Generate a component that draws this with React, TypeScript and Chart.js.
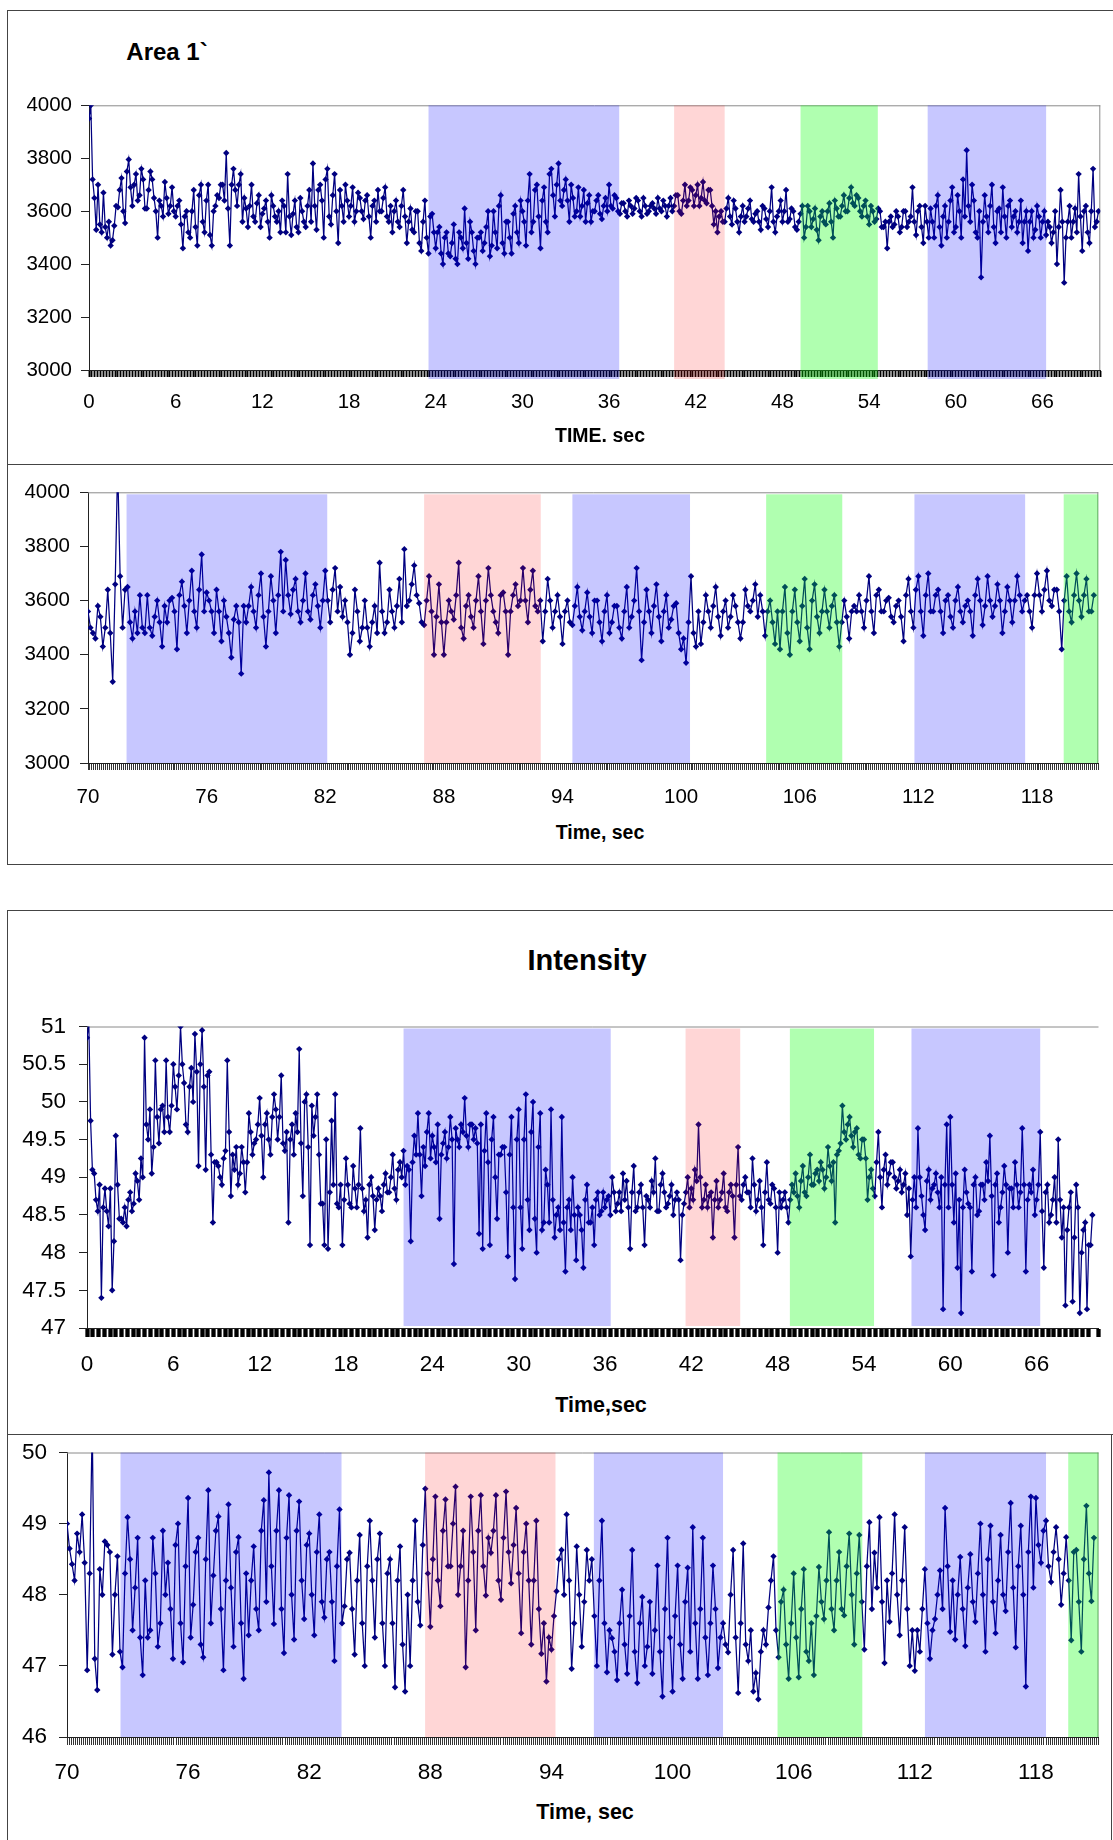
import React, { useEffect, useRef } from "react";
import { Chart, registerables } from "chart.js";

Chart.register(...registerables);

const FONT = 'Arial, "Liberation Sans", Helvetica, sans-serif';

// sampling grid: main samples every 0.25 s, with an in-between sample read at +0.125 s
const SAMPLE_STEP = 0.25;

// ---------- Area 1` : 0 – 70 s ----------
const AREA_A_START = 0;
const AREA_A = [
  3950, 3720, 3530, 3550, 3670, 3500, 3470, 3545, 3615, 3725, 3555, 3795,
  3620, 3740, 3660, 3720, 3610, 3750, 3650, 3500, 3620, 3710, 3590, 3690,
  3580, 3640, 3460, 3600, 3500, 3680, 3470, 3700, 3520, 3700, 3470, 3620,
  3650, 3700, 3820, 3470, 3760, 3620, 3740, 3650, 3540, 3700, 3560, 3660,
  3590, 3640, 3500, 3620, 3560, 3520, 3620, 3740, 3510, 3640, 3520, 3600,
  3540, 3680, 3780, 3530, 3700, 3500, 3760, 3550, 3740, 3480, 3620, 3700,
  3580, 3690, 3600, 3650, 3570, 3660, 3500, 3640, 3680, 3600, 3690, 3560,
  3520, 3640, 3540, 3680, 3480, 3610, 3520, 3600, 3450, 3640, 3440, 3590,
  3460, 3540, 3400, 3520, 3430, 3550, 3400, 3500, 3610, 3420, 3520, 3400,
  3500, 3450, 3540, 3430, 3600, 3460, 3660, 3440, 3560, 3440, 3620, 3480,
  3600, 3470, 3740, 3560, 3700, 3460, 3690, 3520, 3760, 3580, 3780, 3620,
  3720, 3560, 3650, 3600, 3580, 3680, 3630, 3560, 3600, 3660, 3570, 3650,
  3700, 3610, 3650, 3590, 3630, 3580, 3620, 3610, 3640, 3580, 3620, 3600,
  3630, 3590, 3610, 3640, 3580, 3650, 3620, 3660, 3590, 3700, 3640, 3680,
  3660, 3620, 3710, 3630, 3680, 3550, 3520, 3600, 3560, 3650, 3550, 3610,
  3520, 3620, 3580, 3640, 3560, 3600, 3530, 3610, 3540, 3690, 3520, 3600,
  3560, 3680, 3570, 3600, 3530, 3590, 3500, 3620, 3540, 3610, 3490, 3600,
  3550, 3630, 3500, 3610, 3580, 3660, 3600, 3690, 3620, 3650, 3580, 3640,
  3550, 3600, 3570, 3600, 3540, 3460, 3580, 3550, 3580, 3540, 3600, 3560,
  3690, 3510, 3620, 3480, 3560, 3610, 3500, 3660, 3470, 3620, 3560, 3690,
  3540, 3600, 3720, 3830, 3560, 3640, 3500, 3350, 3660, 3520, 3700, 3480,
  3610, 3690, 3500, 3640, 3580, 3520, 3640, 3560, 3450, 3600, 3530, 3580,
  3560, 3510, 3540, 3520, 3400, 3680, 3330, 3560, 3500, 3610, 3740, 3450,
  3620, 3480, 3760, 3560,
];
const AREA_A_MID = [
  4000, 3650, 3700, 3520, 3540, 3560, 3490, 3620, 3680, 3600, 3750, 3690,
  3700, 3640, 3760, 3610, 3680, 3720, 3600, 3640, 3580, 3650, 3620, 3600,
  3620, 3550, 3580, 3520, 3600, 3540, 3660, 3560, 3640, 3510, 3600, 3660,
  3700, 3640, 3610, 3700, 3680, 3700, 3560, 3610, 3620, 3580, 3630, 3540,
  3610, 3560, 3660, 3580, 3600, 3640, 3520, 3580, 3590, 3540, 3650, 3560,
  3620, 3560, 3620, 3680, 3640, 3720, 3580, 3660, 3600, 3680, 3560, 3640,
  3620, 3560, 3670, 3600, 3640, 3580, 3620, 3560, 3600, 3650, 3580, 3620,
  3600, 3560, 3620, 3580, 3560, 3530, 3600, 3480, 3560, 3500, 3580, 3520,
  3520, 3440, 3500, 3440, 3480, 3420, 3520, 3460, 3480, 3560, 3450, 3500,
  3520, 3480, 3600, 3470, 3520, 3620, 3480, 3560, 3500, 3590, 3520, 3640,
  3560, 3640, 3520, 3680, 3580, 3640, 3560, 3740, 3660, 3700, 3640, 3680,
  3640, 3700, 3580, 3690, 3620, 3560, 3660, 3600, 3640, 3590, 3620, 3600,
  3620, 3660, 3600, 3630, 3600, 3640, 3590, 3650, 3600, 3650, 3590, 3620,
  3610, 3650, 3600, 3620, 3620, 3600, 3660, 3600, 3640, 3620, 3690, 3620,
  3700, 3650, 3640, 3680, 3620, 3600, 3580, 3560, 3610, 3580, 3640, 3560,
  3580, 3560, 3610, 3570, 3590, 3560, 3620, 3570, 3600, 3560, 3580, 3640,
  3600, 3560, 3610, 3540, 3560, 3620, 3540, 3600, 3570, 3530, 3580, 3560,
  3600, 3560, 3640, 3580, 3620, 3600, 3650, 3630, 3660, 3600, 3620, 3580,
  3620, 3560, 3610, 3540, 3560, 3560, 3540, 3600, 3520, 3600, 3540, 3580,
  3560, 3600, 3540, 3620, 3500, 3560, 3620, 3540, 3580, 3500, 3640, 3520,
  3660, 3500, 3580, 3620, 3700, 3520, 3600, 3560, 3580, 3620, 3540, 3600,
  3520, 3580, 3620, 3540, 3600, 3560, 3480, 3600, 3560, 3500, 3620, 3500,
  3600, 3560, 3480, 3600, 3540, 3560, 3500, 3620, 3560, 3520, 3580, 3600,
  3520, 3600, 3540, 3600,
];
const AREA_A_BANDS = [
  [23.5, 36.7, "blue"],
  [40.5, 44.0, "pink"],
  [49.25, 54.6, "green"],
  [58.05, 66.25, "blue"],
];

// ---------- Area 1` : 70 – 121 s ----------
const AREA_B_START = 70;
const AREA_B = [
  3560, 3480, 3580, 3430, 3640, 3300, 4100, 3500, 3650, 3460, 3480, 3500,
  3620, 3470, 3600, 3430, 3520, 3610, 3420, 3670, 3480, 3710, 3500, 3770,
  3630, 3560, 3640, 3450, 3540, 3390, 3580, 3330, 3520, 3650, 3500, 3700,
  3430, 3690, 3480, 3780, 3750, 3550, 3680, 3520, 3700, 3530, 3660, 3500,
  3710, 3520, 3720, 3650, 3600, 3400, 3640, 3450, 3600, 3430, 3580, 3740,
  3480, 3640, 3500, 3680, 3790, 3600, 3730, 3590, 3510, 3690, 3400, 3660,
  3400, 3600, 3530, 3740, 3460, 3620, 3500, 3690, 3440, 3720, 3560, 3480,
  3630, 3400, 3620, 3580, 3720, 3520, 3710, 3560, 3450, 3680, 3500, 3620,
  3440, 3600, 3510, 3650, 3490, 3630, 3480, 3600, 3450, 3620, 3520, 3580,
  3460, 3650, 3540, 3720, 3380, 3640, 3480, 3660, 3450, 3620, 3530, 3590,
  3420, 3370, 3690, 3430, 3440, 3620, 3500, 3650, 3470, 3600, 3540, 3580,
  3460, 3640, 3560, 3660, 3620, 3470, 3600, 3440, 3420, 3650, 3400, 3640,
  3450, 3680, 3420, 3660, 3480, 3640, 3500, 3620, 3430, 3600, 3460, 3580,
  3620, 3500, 3690, 3480, 3640, 3560, 3610, 3520, 3600, 3450, 3680, 3500,
  3690, 3470, 3700, 3560, 3640, 3480, 3620, 3500, 3650, 3520, 3600, 3470,
  3680, 3510, 3690, 3540, 3660, 3480, 3650, 3520, 3690, 3560, 3620, 3500,
  3700, 3560, 3710, 3580, 3640, 3420, 3690, 3520, 3700, 3540, 3680, 3560,
];
const AREA_B_MID = [
  3500, 3460, 3540, 3500, 3480, 3660, 3690, 3640, 3520, 3560, 3620, 3480,
  3500, 3540, 3520, 3580, 3600, 3560, 3620, 3580, 3600, 3560, 3640, 3560,
  3600, 3480, 3560, 3600, 3480, 3530, 3520, 3580, 3580, 3560, 3620, 3540,
  3560, 3600, 3620, 3560, 3620, 3640, 3560, 3600, 3560, 3620, 3580, 3600,
  3600, 3640, 3560, 3540, 3520, 3480, 3560, 3500, 3500, 3520, 3480, 3560,
  3520, 3560, 3580, 3520, 3580, 3660, 3620, 3520, 3600, 3560, 3540, 3520,
  3520, 3560, 3620, 3500, 3580, 3540, 3600, 3560, 3600, 3620, 3520, 3620,
  3560, 3560, 3660, 3600, 3600, 3640, 3580, 3600, 3560, 3600, 3560, 3540,
  3560, 3520, 3580, 3540, 3560, 3540, 3600, 3520, 3560, 3480, 3580, 3500,
  3560, 3500, 3600, 3560, 3520, 3560, 3580, 3540, 3560, 3500, 3580, 3480,
  3460, 3520, 3480, 3560, 3520, 3560, 3580, 3540, 3560, 3500, 3620, 3520,
  3520, 3580, 3600, 3540, 3560, 3560, 3520, 3560, 3560, 3480, 3560, 3520,
  3580, 3500, 3600, 3540, 3560, 3560, 3580, 3520, 3520, 3540, 3560, 3560,
  3560, 3600, 3560, 3620, 3560, 3600, 3540, 3580, 3540, 3620, 3560, 3640,
  3560, 3620, 3560, 3620, 3560, 3600, 3540, 3600, 3560, 3580, 3560, 3620,
  3600, 3580, 3600, 3580, 3600, 3560, 3600, 3600, 3620, 3600, 3560, 3620,
  3620, 3640, 3600, 3640, 3560, 3600, 3560, 3620, 3600, 3620, 3560, 3620,
];
const AREA_B_BANDS = [
  [71.95, 82.1, "blue"],
  [87.0, 92.9, "pink"],
  [94.5, 100.45, "blue"],
  [104.3, 108.15, "green"],
  [111.8, 117.4, "blue"],
  [119.35, 121.1, "green"],
];

// ---------- Intensity : 0 – 70 s ----------
const INT_A_START = 0;
const INT_A = [
  50.85, 49.75, 49.05, 48.55, 47.4, 48.85, 48.35, 47.5, 49.55, 48.45, 48.4, 48.35,
  48.8, 48.65, 48.95, 49.25, 50.85, 49.5, 49.05, 50.55, 49.45, 49.95, 50.55, 49.6,
  50.5, 49.9, 51.0, 50.25, 49.6, 50.45, 50.9, 49.15, 50.95, 49.1, 50.4, 48.4,
  49.2, 49.0, 49.25, 50.55, 48.75, 49.1, 48.9, 49.4, 48.8, 49.85, 49.3, 49.5,
  50.05, 49.0, 49.85, 49.3, 50.1, 49.5, 50.35, 49.35, 48.4, 49.7, 49.85, 50.7,
  48.75, 50.1, 48.1, 49.55, 50.1, 48.65, 48.1, 48.05, 49.75, 50.1, 48.6, 48.1,
  49.25, 48.65, 49.15, 48.6, 49.65, 48.55, 48.2, 49.0, 48.3, 48.85, 48.55, 49.05,
  48.8, 49.3, 48.7, 49.2, 49.35, 49.15, 48.15, 49.55, 49.85, 48.75, 49.15, 49.85,
  49.55, 49.2, 48.45, 49.45, 49.25, 49.8, 47.85, 49.5, 49.7, 50.05, 49.4, 49.7,
  49.65, 48.25, 48.05, 49.85, 48.1, 49.8, 48.45, 49.3, 49.4, 47.95, 49.8, 47.65,
  49.9, 48.05, 50.1, 48.3, 50.0, 48.0, 49.85, 48.4, 48.9, 49.9, 48.2, 48.6,
  49.8, 47.75, 48.7, 49.0, 47.9, 48.5, 47.8, 48.9, 48.4, 48.1, 48.8, 48.55,
  48.6, 48.75, 49.0, 48.55, 48.8, 49.05, 48.95, 48.05, 49.15, 48.6, 48.9, 48.1,
  48.7, 48.95, 49.25, 48.55, 49.05, 48.6, 48.75, 48.5, 48.8, 47.9, 48.65, 49.0,
  48.85, 49.1, 49.7, 48.6, 48.9, 48.75, 48.2, 48.95, 48.7, 49.05, 48.55, 48.9,
  48.2, 49.4, 48.7, 49.0, 48.8, 49.25, 48.55, 48.95, 48.1, 49.2, 48.65, 48.85,
  48.0, 48.6, 48.8, 48.4, 48.9, 49.05, 48.6, 49.15, 48.75, 49.3, 48.9, 49.1,
  49.2, 48.85, 49.4, 48.95, 48.4, 49.35, 49.95, 49.5, 49.8, 49.4, 49.65, 49.25,
  49.5, 48.7, 49.1, 48.75, 49.6, 48.6, 49.3, 49.05, 49.2, 48.85, 49.1, 48.9,
  48.5, 47.95, 49.0, 49.65, 48.75, 48.3, 49.1, 48.85, 49.05, 48.6, 47.25, 49.7,
  49.8, 48.4, 47.8, 47.2, 49.1, 48.65, 47.75, 49.0, 48.55, 48.9, 49.2, 49.55,
  47.7, 49.05, 48.6, 49.15, 48.0, 48.85, 49.2, 48.6, 49.65, 47.75, 48.9, 49.1,
  48.7, 49.6, 47.8, 48.9, 48.5, 49.0, 49.5, 48.2, 47.3, 48.6, 47.35, 48.9,
  47.2, 48.3, 47.25, 48.1,
];
const INT_A_MID = [
  51.05, 49.1, 48.7, 48.9, 48.6, 48.55, 48.85, 48.15, 48.9, 48.45, 48.6, 48.7,
  48.55, 49.05, 48.7, 49.0, 49.7, 49.9, 49.4, 49.8, 49.9, 49.6, 49.8, 49.95,
  50.2, 50.35, 50.5, 49.7, 50.2, 50.0, 50.4, 50.5, 50.2, 50.35, 49.3, 49.2,
  49.15, 48.9, 49.35, 49.6, 49.3, 49.4, 49.05, 49.2, 49.2, 49.6, 49.45, 49.7,
  49.55, 49.7, 49.5, 49.8, 49.9, 49.8, 49.45, 49.6, 49.5, 49.3, 49.6, 49.45,
  50.0, 49.4, 49.95, 49.8, 49.3, 48.65, 49.5, 48.8, 48.9, 48.65, 48.9, 48.7,
  48.9, 48.6, 48.85, 48.9, 48.85, 48.7, 48.9, 48.75, 48.7, 48.75, 48.9, 48.8,
  49.0, 48.85, 49.1, 49.0, 48.9, 49.1, 49.2, 49.3, 49.3, 49.4, 49.6, 49.25,
  49.4, 49.7, 49.3, 49.6, 49.4, 49.5, 49.65, 49.4, 49.6, 49.55, 49.7, 49.5,
  49.45, 49.7, 49.35, 49.2, 49.5, 49.0, 49.3, 49.4, 48.8, 49.3, 48.6, 49.5,
  48.6, 49.5, 48.7, 49.6, 48.45, 49.4, 48.3, 49.1, 48.4, 48.7, 48.5, 48.3,
  48.4, 48.6, 48.3, 48.5, 48.6, 48.3, 48.7, 48.4, 48.6, 48.7, 48.5, 48.8,
  48.7, 48.5, 48.8, 48.65, 48.55, 48.7, 48.6, 48.8, 48.55, 48.8, 48.6, 48.75,
  48.6, 48.8, 48.55, 48.9, 48.8, 48.65, 48.9, 48.7, 48.7, 48.5, 48.8, 48.6,
  48.7, 48.95, 49.0, 48.7, 48.6, 48.8, 48.7, 48.6, 48.8, 48.6, 48.8, 48.75,
  48.9, 48.75, 48.9, 48.8, 48.6, 48.9, 48.7, 48.6, 48.8, 48.7, 48.9, 48.6,
  48.8, 48.7, 48.6, 48.7, 48.8, 48.75, 48.95, 48.8, 49.0, 48.9, 49.05, 48.95,
  49.1, 49.0, 49.15, 49.2, 49.3, 49.45, 49.6, 49.7, 49.55, 49.6, 49.3, 49.5,
  49.25, 49.0, 48.85, 49.2, 49.0, 49.1, 48.9, 49.2, 49.0, 48.95, 48.8, 49.05,
  48.85, 48.7, 48.6, 49.0, 48.5, 48.95, 48.7, 48.9, 48.8, 49.0, 48.9, 48.6,
  48.9, 49.05, 48.7, 48.6, 48.8, 48.6, 48.9, 48.5, 48.9, 48.7, 48.95, 48.75,
  48.9, 48.4, 48.8, 48.9, 48.85, 48.6, 48.9, 48.8, 48.9, 48.7, 48.8, 48.5,
  48.9, 48.55, 48.8, 48.4, 48.7, 48.4, 48.7, 48.6, 48.3, 48.8, 48.2, 48.6,
  48.0, 48.4, 48.1, 48.5,
];
const INT_A_BANDS = [
  [22.0, 36.4, "blue"],
  [41.6, 45.4, "pink"],
  [48.85, 54.7, "green"],
  [57.3, 66.25, "blue"],
];

// ---------- Intensity : 70 – 121 s ----------
const INT_B_START = 70;
const INT_B = [
  49.0, 48.43, 48.86, 49.13, 46.94, 50.4, 46.66, 48.0, 48.7, 47.16, 48.54, 46.98,
  49.09, 47.5, 48.8, 46.87, 47.4, 48.8, 47.27, 48.9, 48.45, 47.1, 49.0, 47.05,
  49.36, 47.86, 48.8, 47.12, 49.47, 48.27, 49.1, 46.94, 49.27, 47.27, 48.81, 46.82,
  47.43, 48.68, 47.5, 49.33, 49.72, 47.59, 49.47, 47.18, 49.4, 47.37, 49.31, 47.66,
  48.86, 47.43, 49.13, 47.68, 48.6, 47.07, 49.2, 47.84, 48.59, 47.16, 48.84, 47.0,
  49.04, 47.4, 48.86, 47.0, 48.5, 46.7, 48.68, 46.64, 47.0, 49.04, 47.57, 49.49,
  47.55, 49.38, 47.84, 49.34, 48.4, 49.52, 48.4, 46.98, 49.38, 47.5, 49.4, 47.99,
  48.59, 49.4, 47.93, 49.45, 48.16, 49.22, 47.46, 49.0, 47.3, 49.04, 47.17, 46.78,
  47.23, 48.05, 48.63, 49.13, 46.96, 48.68, 47.27, 48.63, 48.5, 47.0, 49.04, 46.91,
  47.39, 46.8, 48.07, 46.89, 48.63, 46.76, 47.97, 47.27, 46.89, 48.41, 46.57, 48.8,
  46.64, 48.41, 46.82, 48.38, 48.95, 46.82, 48.8, 46.87, 48.41, 46.97, 47.6, 47.19,
  48.63, 46.62, 48.72, 47.07, 46.64, 46.53, 47.5, 47.82, 48.54, 47.12, 48.07, 46.82,
  48.3, 46.84, 48.36, 47.07, 46.87, 48.39, 47.66, 48.88, 47.5, 48.6, 47.71, 48.86,
  47.3, 48.84, 47.23, 49.02, 48.59, 49.09, 47.04, 47.62, 49.13, 47.43, 48.95, 47.0,
  46.93, 47.2, 48.36, 47.1, 47.66, 48.34, 49.22, 47.48, 47.37, 48.53, 47.28, 48.57,
  47.62, 49.0, 47.2, 48.97, 47.46, 48.84, 47.77, 49.29, 47.26, 48.97, 46.71, 49.38,
  49.36, 48.45, 49.04, 48.18, 48.95, 47.86, 48.81, 47.36, 48.63, 47.2, 49.25, 47.91,
];
const INT_B_MID = [
  48.65, 48.2, 48.6, 48.45, 48.3, 47.1, 48.36, 48.75, 48.6, 48.0, 47.2, 48.3,
  48.5, 48.1, 47.4, 48.2, 47.5, 48.3, 47.6, 48.0, 47.8, 48.7, 47.6, 48.4,
  47.4, 48.6, 47.3, 48.5, 47.6, 48.9, 47.8, 48.2, 48.1, 48.6, 47.6, 48.3,
  48.2, 47.8, 48.9, 47.9, 48.4, 48.9, 47.8, 48.8, 48.0, 48.9, 48.2, 48.7,
  48.0, 48.6, 47.9, 48.5, 47.9, 48.4, 47.6, 48.5, 47.8, 48.2, 47.6, 48.4,
  48.2, 48.5, 47.6, 48.3, 47.6, 48.2, 47.3, 48.0, 48.2, 47.9, 48.7, 48.3,
  48.5, 48.2, 48.9, 48.4, 49.0, 48.0, 48.9, 48.2, 48.6, 48.9, 48.4, 48.8,
  48.9, 48.2, 48.8, 48.6, 48.7, 48.3, 48.6, 48.2, 48.2, 47.8, 47.6, 47.4,
  47.7, 48.5, 48.0, 48.2, 47.6, 48.0, 47.9, 48.2, 47.7, 48.2, 47.6, 47.5,
  47.2, 47.6, 47.3, 47.7, 47.2, 47.6, 47.0, 47.9, 47.5, 47.2, 47.8, 47.4,
  47.7, 47.3, 47.9, 47.2, 47.6, 47.8, 47.4, 47.6, 47.8, 47.4, 47.3, 48.0,
  47.4, 47.6, 47.3, 47.5, 46.9, 47.2, 47.3, 48.2, 47.5, 47.9, 47.3, 47.6,
  47.4, 47.8, 47.2, 47.6, 47.7, 47.9, 48.2, 47.8, 48.2, 47.8, 48.4, 48.0,
  48.3, 47.9, 48.4, 47.8, 48.1, 47.9, 48.2, 48.3, 48.0, 48.2, 47.8, 47.5,
  47.5, 47.8, 47.6, 47.5, 48.0, 47.8, 48.4, 48.2, 48.0, 47.8, 48.1, 47.9,
  48.3, 48.0, 48.5, 47.9, 48.2, 48.0, 48.6, 48.1, 48.4, 48.0, 48.6, 48.1,
  48.7, 48.9, 48.4, 48.6, 48.5, 48.3, 48.2, 48.6, 47.9, 48.5, 48.3, 48.8,
];
const INT_B_BANDS = [
  [72.65, 83.6, "blue"],
  [87.74, 94.2, "pink"],
  [96.1, 102.5, "blue"],
  [105.2, 109.4, "green"],
  [112.5, 118.5, "blue"],
  [119.6, 121.1, "green"],
];

const BAND_COLORS: Record<string, string> = {
  blue: "rgba(0,0,255,0.22)",
  pink: "rgba(255,0,0,0.16)",
  green: "rgba(0,255,0,0.31)",
};

const PANELS = [
  {
    key: "p1", values: AREA_A, mid: AREA_A_MID, start: AREA_A_START, bands: AREA_A_BANDS,
    xMin: 0, xMax: 70, yMin: 3000, yMax: 4000, yStep: 200,
    plotLeft: 89, plotTop: 100, plotBottom: 370, plotRight: 1110, labelY: 402,
    font: 20.5, yPad: 9, tickStep: 0.2, tickWidth: 1.9, tickColor: "#000", strip: 7,
    bandTop: 0, bandBottom: 9, rightFrame: true,
  },
  {
    key: "p2", values: AREA_B, mid: AREA_B_MID, start: AREA_B_START, bands: AREA_B_BANDS,
    xMin: 70, xMax: 121.1, yMin: 3000, yMax: 4000, yStep: 200,
    plotLeft: 88, plotTop: 486, plotBottom: 763, plotRight: 1110, labelY: 797,
    font: 20.5, yPad: 10, tickStep: 0.1, tickWidth: 1, tickColor: "#333", strip: 7,
    bandTop: 2, bandBottom: 0, rightFrame: true,
  },
  {
    key: "p3", values: INT_A, mid: INT_A_MID, start: INT_A_START, bands: INT_A_BANDS,
    xMin: 0, xMax: 70.3, yMin: 47, yMax: 51, yStep: 0.5,
    plotLeft: 87, plotTop: 1016, plotBottom: 1328, plotRight: 1113, labelY: 1365,
    font: 22.5, yPad: 13, tickStep: 0.4, tickWidth: 4.3, tickColor: "#000", strip: 9,
    bandTop: 2, bandBottom: -2, rightFrame: false,
  },
  {
    key: "p4", values: INT_B, mid: INT_B_MID, start: INT_B_START, bands: INT_B_BANDS,
    xMin: 70, xMax: 121.1, yMin: 46, yMax: 50, yStep: 1,
    plotLeft: 67, plotTop: 1443, plotBottom: 1737, plotRight: 1102, labelY: 1773,
    font: 22.5, yPad: 12, tickStep: 0.1, tickWidth: 1, tickColor: "#333", strip: 8,
    bandTop: 0, bandBottom: 0, rightFrame: true,
  },
];

const TOP_PAD = 16;
const X_AXIS_H = 58;
const CANVAS_W = 1113;

function Panel({ cfg }: { cfg: any }) {
  const ref = useRef<HTMLCanvasElement | null>(null);
  const canvasTop = cfg.plotTop - TOP_PAD;
  const canvasH = cfg.plotBottom - canvasTop + X_AXIS_H;

  useEffect(() => {
    const points: { x: number; y: number }[] = [];
    cfg.values.forEach((v: number, i: number) => {
      const t = cfg.start + i * SAMPLE_STEP;
      points.push({ x: t, y: v });
      points.push({ x: t + SAMPLE_STEP / 2, y: cfg.mid[i] });
    });
    const lineH = cfg.font * 1.2;
    const xPad = cfg.labelY - cfg.plotBottom - cfg.strip - lineH / 2;

    const overlay = {
      id: "overlay_" + cfg.key,
      beforeDatasetsDraw(chart: any) {
        const { ctx, chartArea: a } = chart;
        ctx.save();
        ctx.strokeStyle = "#8a8a8a";
        ctx.lineWidth = 1;
        ctx.beginPath();
        ctx.moveTo(a.left, a.top + 0.5);
        ctx.lineTo(a.right, a.top + 0.5);
        if (cfg.rightFrame) {
          ctx.moveTo(a.right - 0.5, a.top);
          ctx.lineTo(a.right - 0.5, a.bottom);
        }
        ctx.stroke();
        ctx.restore();
      },
      afterDraw(chart: any) {
        const { ctx, chartArea: a, scales } = chart;
        const xs = scales.x;
        ctx.save();
        for (const b of cfg.bands) {
          const x0 = xs.getPixelForValue(b[0]);
          const x1 = xs.getPixelForValue(b[1]);
          const y0 = a.top + cfg.bandTop;
          const y1 = a.bottom + cfg.bandBottom;
          ctx.fillStyle = BAND_COLORS[b[2]];
          ctx.fillRect(x0, y0, x1 - x0, y1 - y0);
        }
        ctx.restore();
      },
    };

    const tickFont = { family: FONT, size: cfg.font };

    const chart = new Chart(ref.current as HTMLCanvasElement, {
      type: "line",
      data: {
        datasets: [
          {
            data: points,
            borderColor: "#000080",
            backgroundColor: "#000080",
            borderWidth: 1.25,
            pointStyle: "rectRot",
            pointRadius: 3.2,
            pointBorderWidth: 0,
            pointBackgroundColor: "#000080",
            tension: 0,
          },
        ],
      },
      options: {
        animation: false,
        responsive: false,
        devicePixelRatio: 1,
        events: [],
        layout: {
          padding: { left: 0, top: TOP_PAD, right: CANVAS_W - cfg.plotRight, bottom: 0 },
        },
        plugins: {
          legend: { display: false },
          tooltip: { enabled: false },
          title: { display: false },
        },
        scales: {
          x: {
            type: "linear",
            min: cfg.xMin,
            max: cfg.xMax,
            afterFit: (s: any) => {
              s.height = X_AXIS_H;
            },
            border: { display: true, color: "#222", width: 1 },
            grid: {
              display: true,
              drawOnChartArea: false,
              drawTicks: true,
              tickLength: cfg.strip,
              tickWidth: cfg.tickWidth,
              tickColor: cfg.tickColor,
              color: cfg.tickColor,
            },
            ticks: {
              stepSize: cfg.tickStep,
              autoSkip: false,
              maxRotation: 0,
              minRotation: 0,
              padding: xPad,
              color: "#000",
              font: tickFont,
              callback: (v: any) => {
                const n = Number(v);
                const r = Math.round(n);
                if (Math.abs(n - r) < 1e-6 && (r - cfg.xMin) % 6 === 0) return String(r);
                return "";
              },
            },
          },
          y: {
            type: "linear",
            min: cfg.yMin,
            max: cfg.yMax,
            afterFit: (s: any) => {
              s.width = cfg.plotLeft;
            },
            border: { display: true, color: "#222", width: 1 },
            grid: {
              display: true,
              drawOnChartArea: false,
              drawTicks: true,
              tickLength: 8,
              tickColor: "#222",
              color: "#222",
            },
            ticks: {
              stepSize: cfg.yStep,
              padding: cfg.yPad,
              color: "#000",
              font: tickFont,
              callback: (v: any) => String(Number(v)),
            },
          },
        },
      },
      plugins: [overlay],
    } as any);

    return () => chart.destroy();
  }, []);

  return (
    <canvas
      ref={ref}
      width={CANVAS_W}
      height={canvasH}
      style={{ position: "absolute", left: 0, top: canvasTop, width: CANVAS_W, height: canvasH }}
    />
  );
}

function Label({ text, x, y, size }: { text: string; x: number; y: number; size: number }) {
  return (
    <div
      style={{
        position: "absolute",
        left: x,
        top: y,
        transform: "translate(-50%, -50%)",
        fontFamily: FONT,
        fontWeight: "bold",
        fontSize: size,
        whiteSpace: "nowrap",
        color: "#000",
        lineHeight: 1,
      }}
    >
      {text}
    </div>
  );
}

const line = "1.5px solid #444";

export default function App() {
  return (
    <div
      style={{
        position: "absolute",
        left: 0,
        top: 0,
        width: 1113,
        height: 1840,
        overflow: "hidden",
        background: "#fff",
      }}
    >
      {/* frame around the two Area panels */}
      <div style={{ position: "absolute", left: 7, top: 10, width: 1130, height: 855, border: line, boxSizing: "border-box" }} />
      <div style={{ position: "absolute", left: 7, top: 464, width: 1130, height: 0, borderTop: line }} />
      {/* frame around the two Intensity panels */}
      <div style={{ position: "absolute", left: 7, top: 910, width: 1130, height: 1000, border: line, boxSizing: "border-box" }} />
      <div style={{ position: "absolute", left: 7, top: 1434, width: 1130, height: 0, borderTop: line }} />
      <div style={{ position: "absolute", left: 1111, top: 1434, width: 0, height: 420, borderLeft: line }} />

      {PANELS.map((p) => (
        <Panel key={p.key} cfg={p} />
      ))}

      <Label text="Area 1`" x={167} y={52} size={24} />
      <Label text="TIME. sec" x={600} y={436} size={19.5} />
      <Label text="Time, sec" x={600} y={833} size={19.5} />
      <Label text="Intensity" x={587} y={960} size={29} />
      <Label text="Time,sec" x={601} y={1406} size={21.5} />
      <Label text="Time, sec" x={585} y={1813} size={21.5} />
    </div>
  );
}
